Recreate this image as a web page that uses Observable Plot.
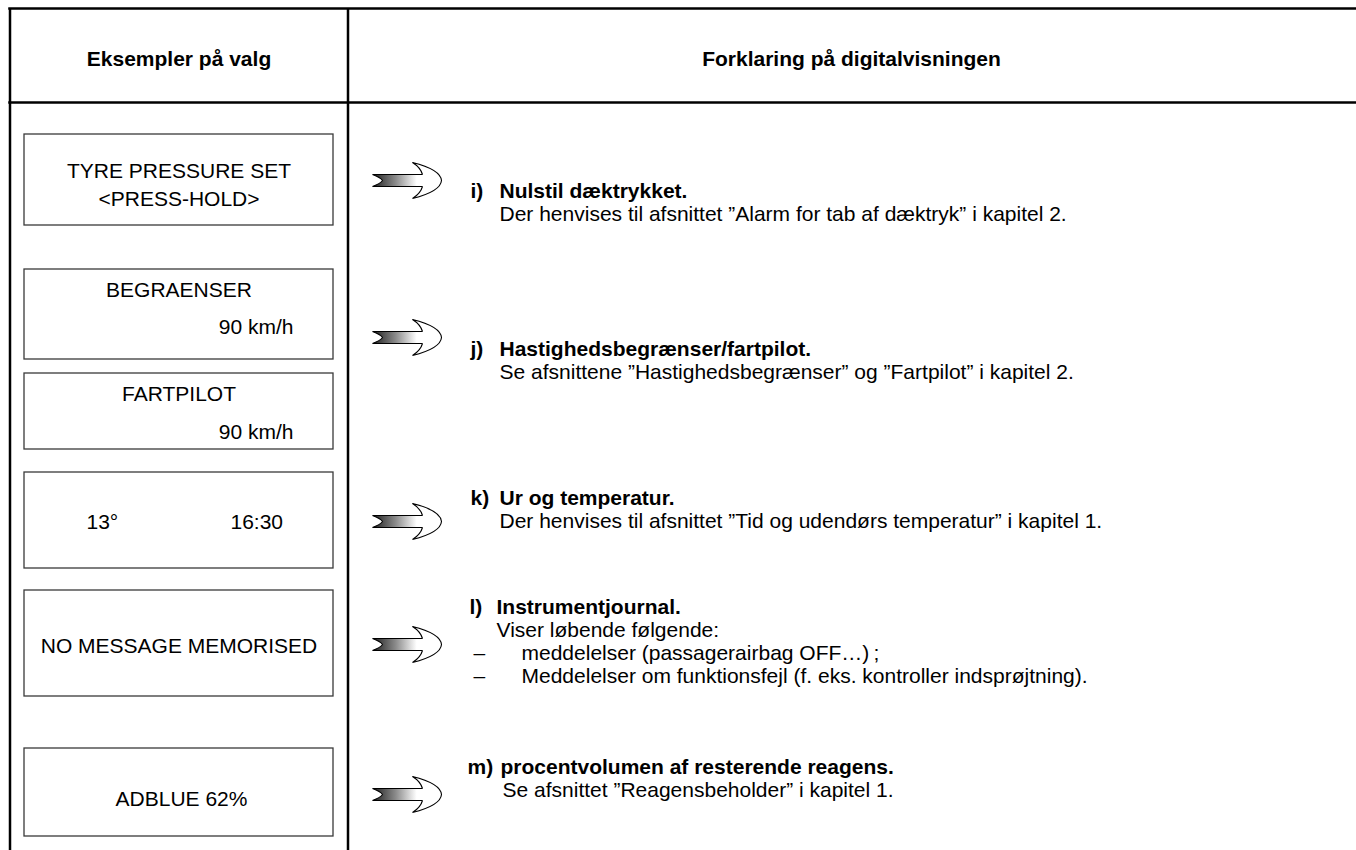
<!DOCTYPE html>
<html>
<head>
<meta charset="utf-8">
<script src="https://cdn.jsdelivr.net/npm/d3@7"></script>
<script src="https://cdn.jsdelivr.net/npm/@observablehq/plot@0.6"></script>
<style>
  html, body { margin: 0; padding: 0; background: #ffffff; }
  #chart svg { display: block; }
</style>
</head>
<body>
<div id="chart"></div>
<script>
// ---------------- CONTENT (data) ----------------
const columnHeaders = ["Eksempler på valg", "Forklaring på digitalvisningen"];

const displayText = [
  ["TYRE PRESSURE SET", "<PRESS-HOLD>"],
  ["BEGRAENSER", "90 km/h"],
  ["FARTPILOT", "90 km/h"],
  ["13°", "16:30"],
  ["NO MESSAGE MEMORISED"],
  ["ADBLUE 62%"]
];

const itemLabels = ["i)", "j)", "k)", "l)", "m)"];

const itemTitles = [
  "Nulstil dæktrykket.",
  "Hastighedsbegrænser/fartpilot.",
  "Ur og temperatur.",
  "Instrumentjournal.",
  "procentvolumen af resterende reagens."
];

const itemDetails = [
  ["Der henvises til afsnittet ”Alarm for tab af dæktryk” i kapitel 2."],
  ["Se afsnittene ”Hastighedsbegrænser” og ”Fartpilot” i kapitel 2."],
  ["Der henvises til afsnittet ”Tid og udendørs temperatur” i kapitel 1."],
  ["Viser løbende følgende:"],
  ["Se afsnittet ”Reagensbeholder” i kapitel 1."]
];

const itemBullets = [
  [],
  [],
  [],
  ["meddelelser (passagerairbag OFF…)\u2009;", "Meddelelser om funktionsfejl (f. eks. kontroller indsprøjtning)."],
  []
];

const bulletMark = "–";

// ---------------- LAYOUT (positions / sizes, in pixels) ----------------
const W = 1356, H = 850;
const frame = { top: 8, headerBottom: 102, left: 9.5, divider: 347.5, right: W, bottom: H };
const headerPlace = [{ x: 178.5, y: 65 }, { x: 851, y: 65 }];
const boxX = { x1: 24, x2: 333 };
const boxRows = [[134, 225], [269, 359], [373, 449], [472, 568], [590, 696], [748, 836]];
const displayPlace = [
  [{ x: 178.5, y: 177, a: "middle" }, { x: 178.5, y: 205, a: "middle" }],
  [{ x: 178.5, y: 296, a: "middle" }, { x: 293, y: 333, a: "end" }],
  [{ x: 178.5, y: 400, a: "middle" }, { x: 293, y: 438, a: "end" }],
  [{ x: 86, y: 528, a: "start" }, { x: 230, y: 528, a: "start" }],
  [{ x: 178.5, y: 652, a: "middle" }],
  [{ x: 181, y: 805, a: "middle" }]
];
const arrowX = 406;
const arrowY = [180, 337, 521, 644, 794];
const itemBaseY = [197, 355, 504, 613, 773];
const lineStep = 23;
const labelX = [470, 470, 470, 469, 467];
const titleX = [499, 499, 499, 496, 500];
const detailX = [499, 499, 499, 496, 502];
const dashX = 473, bulletTextX = 521;

// ---------------- derived tables for marks ----------------
const headerRows = columnHeaders.map((t, i) => ({ t, ...headerPlace[i] }));
const boxes = boxRows.map(([y1, y2]) => ({ x1: boxX.x1, x2: boxX.x2, y1, y2 }));
const displayRows = displayText.flatMap((lines, i) => lines.map((t, j) => ({ t, ...displayPlace[i][j] })));
const arrows = arrowY.map(y => ({ x: arrowX, y }));
const labelRows = itemLabels.map((t, i) => ({ t, x: labelX[i], y: itemBaseY[i] }));
const titleRows = itemTitles.map((t, i) => ({ t, x: titleX[i], y: itemBaseY[i] }));
const detailRows = itemDetails.flatMap((lines, i) => lines.map((t, k) => ({ t, x: detailX[i], y: itemBaseY[i] + lineStep * (k + 1) })));
const bulletRows = itemBullets.flatMap((lines, i) => lines.map((t, k) => ({ t, y: itemBaseY[i] + lineStep * (itemDetails[i].length + k + 1) })));

// ---------------- arrow glyphs as custom Plot symbols ----------------
const shaftSymbol = {
  draw(ctx, size) {
    const s = Math.sqrt(size / Math.PI);
    ctx.moveTo(-34 * s, -6 * s);
    ctx.lineTo(18 * s, -6 * s);
    ctx.lineTo(18 * s, 6 * s);
    ctx.lineTo(-34 * s, 6 * s);
    ctx.quadraticCurveTo(-26 * s, 3 * s, -24 * s, 0);
    ctx.quadraticCurveTo(-26 * s, -3 * s, -34 * s, -6 * s);
    ctx.closePath();
  }
};
const headSymbol = {
  draw(ctx, size) {
    const s = Math.sqrt(size / Math.PI);
    ctx.moveTo(16 * s, -6 * s);
    ctx.quadraticCurveTo(14 * s, -13 * s, 6 * s, -18 * s);
    ctx.quadraticCurveTo(34 * s, -11 * s, 35 * s, 0);
    ctx.quadraticCurveTo(34 * s, 11 * s, 6 * s, 18 * s);
    ctx.quadraticCurveTo(14 * s, 13 * s, 16 * s, 6 * s);
  }
};

const FS = 21;
const textOpts = { x: "x", y: "y", text: "t", lineAnchor: "bottom", fontSize: FS, fill: "#000" };

const chart = Plot.plot({
  width: W,
  height: H,
  margin: 0,
  x: { type: "identity", axis: null },
  y: { type: "identity", axis: null },
  style: { fontFamily: "'Liberation Sans', Arial, Helvetica, sans-serif", fontSize: FS + "px", background: "#ffffff", color: "#000" },
  marks: [
    // table frame
    Plot.ruleY([frame.top, frame.headerBottom], { x1: () => frame.left - 1.25, x2: () => frame.right, y: d => d, stroke: "#000", strokeWidth: 2.5 }),
    Plot.ruleX([frame.left, frame.divider], { x: d => d, y1: () => frame.top, y2: () => frame.bottom, stroke: "#000", strokeWidth: 2.5 }),
    // display boxes
    Plot.rect(boxes, { x1: "x1", x2: "x2", y1: "y1", y2: "y2", fill: "#fff", stroke: "#3a3a3a", strokeWidth: 1.3 }),
    // headers
    Plot.text(headerRows, { ...textOpts, textAnchor: "middle", fontWeight: "bold" }),
    // display texts
    Plot.text(displayRows.filter(d => d.a === "middle"), { ...textOpts, textAnchor: "middle" }),
    Plot.text(displayRows.filter(d => d.a === "end"), { ...textOpts, textAnchor: "end" }),
    Plot.text(displayRows.filter(d => d.a === "start"), { ...textOpts, textAnchor: "start" }),
    // arrows
    Plot.dot(arrows, { x: "x", y: "y", r: 1, symbol: shaftSymbol, fill: "url(#shaftGrad)", stroke: "#000", strokeWidth: 1.1 }),
    Plot.dot(arrows, { x: "x", y: "y", r: 1, symbol: headSymbol, fill: "#fff", stroke: "#000", strokeWidth: 1.1 }),
    // explanation column
    Plot.text(labelRows, { ...textOpts, textAnchor: "start", fontWeight: "bold" }),
    Plot.text(titleRows, { ...textOpts, textAnchor: "start", fontWeight: "bold" }),
    Plot.text(detailRows, { ...textOpts, textAnchor: "start" }),
    Plot.text(bulletRows, { ...textOpts, x: () => dashX, text: () => bulletMark, textAnchor: "start" }),
    Plot.text(bulletRows, { ...textOpts, x: () => bulletTextX, textAnchor: "start" })
  ]
});

const defs = d3.select(chart).insert("defs", ":first-child");
const grad = defs.append("linearGradient").attr("id", "shaftGrad").attr("x1", "0").attr("x2", "1").attr("y1", "0").attr("y2", "0");
grad.append("stop").attr("offset", "0%").attr("stop-color", "#1e1e1e");
grad.append("stop").attr("offset", "45%").attr("stop-color", "#8c8c8c");
grad.append("stop").attr("offset", "85%").attr("stop-color", "#ffffff");
grad.append("stop").attr("offset", "100%").attr("stop-color", "#ffffff");

document.getElementById("chart").appendChild(chart);
</script>
</body>
</html>
